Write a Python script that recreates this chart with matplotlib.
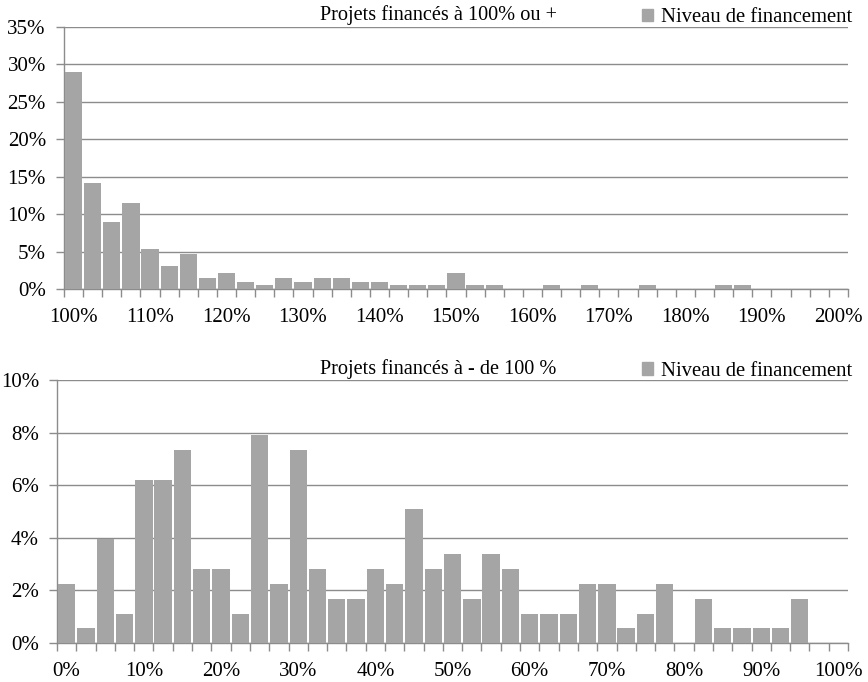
"""Distribution des niveaux de financement (deux histogrammes)."""

import matplotlib

matplotlib.use("Agg")
import matplotlib.pyplot as plt
import numpy as np
from matplotlib.patches import Patch


# Projets financés à 100% ou plus : 41 classes de 2,5 points (100% .. 200%)
top_values = [
    28.9, 14.2, 8.9, 11.5, 5.3, 3.1, 4.7, 1.5, 2.1, 1.0,
    0.5, 1.5, 1.0, 1.5, 1.5, 1.0, 1.0, 0.5, 0.5, 0.5,
    2.1, 0.5, 0.5, 0.0, 0.0, 0.5, 0.0, 0.5, 0.0, 0.0,
    0.5, 0.0, 0.0, 0.0, 0.5, 0.5, 0.0, 0.0, 0.0, 0.0,
    0.0,
]
top_tick_labels = ["100%", "110%", "120%", "130%", "140%", "150%",
                   "160%", "170%", "180%", "190%", "200%"]
top_yticks = [0, 5, 10, 15, 20, 25, 30, 35]

# Projets financés à moins de 100% : 41 classes de 2,5 points (0% .. 100%)
bottom_values = [
    2.25, 0.56, 3.96, 1.11, 6.2, 6.2, 7.34, 2.81, 2.81, 1.11,
    7.9, 2.25, 7.34, 2.81, 1.68, 1.68, 2.81, 2.25, 5.08, 2.81,
    3.38, 1.68, 3.38, 2.81, 1.11, 1.11, 1.11, 2.25, 2.25, 0.56,
    1.11, 2.25, 0.0, 1.68, 0.56, 0.56, 0.56, 0.56, 1.68, 0.0,
    0.0,
]
bottom_tick_labels = ["0%", "10%", "20%", "30%", "40%", "50%",
                      "60%", "70%", "80%", "90%", "100%"]
bottom_yticks = [0, 2, 4, 6, 8, 10]

BAR_COLOR = "#a5a5a5"
LINE_COLOR = "#8c8c8c"
FONT = "Liberation Serif"
TICK_SIZE = 15
TITLE_SIZE = 14.6
LEGEND_SIZE = 14.9

plt.rcParams["font.family"] = [FONT, "DejaVu Serif"]


def draw_histogram(axis, values, tick_labels, yticks, title, title_y):
    positions = np.arange(len(values))
    axis.bar(positions, values, width=0.9, color=BAR_COLOR, zorder=3)

    axis.set_xlim(-0.5, len(values) - 0.5)
    axis.set_ylim(yticks[0], yticks[-1])

    # Labels on every 4th category, boundary ticks between all categories.
    axis.set_xticks(positions[::4])
    axis.set_xticklabels(tick_labels)
    axis.set_xticks(np.arange(len(values) + 1) - 0.5, minor=True)
    axis.tick_params(axis="x", which="major", length=0, pad=14,
                     labelsize=TICK_SIZE)
    axis.tick_params(axis="x", which="minor", length=6, width=1,
                     color=LINE_COLOR, direction="out")

    axis.set_yticks(yticks)
    axis.set_yticklabels([f"{tick}%" for tick in yticks])
    axis.tick_params(axis="y", length=6, width=1, color=LINE_COLOR,
                     pad=7, labelsize=TICK_SIZE)
    axis.yaxis.grid(True, color=LINE_COLOR, linewidth=1, zorder=0)

    for side in ("top", "right"):
        axis.spines[side].set_visible(False)
    for side in ("left", "bottom"):
        axis.spines[side].set_color(LINE_COLOR)
        axis.spines[side].set_linewidth(1)

    axis.figure.text(0.505, title_y, title, ha="center", va="center",
                     fontsize=TITLE_SIZE)
    axis.legend(
        handles=[Patch(color=BAR_COLOR, label="Niveau de financement")],
        loc="upper right",
        bbox_to_anchor=(1.005, 1.07),
        frameon=False,
        handlelength=0.55,
        handleheight=0.55,
        handletextpad=0.35,
        borderaxespad=0,
        borderpad=0,
        fontsize=LEGEND_SIZE,
    )


figure = plt.figure(figsize=(8.68, 6.82), dpi=100)
top_axis = figure.add_axes([0.0737, 0.5762, 0.9032, 0.3846])
bottom_axis = figure.add_axes([0.0657, 0.0572, 0.9113, 0.3856])

draw_histogram(top_axis, top_values, top_tick_labels, top_yticks,
               "Projets financés à 100% ou +", 1 - 15 / 682)
draw_histogram(bottom_axis, bottom_values, bottom_tick_labels, bottom_yticks,
               "Projets financés à - de 100 %", 1 - 369 / 682)

figure.savefig("out.png", dpi=100)
